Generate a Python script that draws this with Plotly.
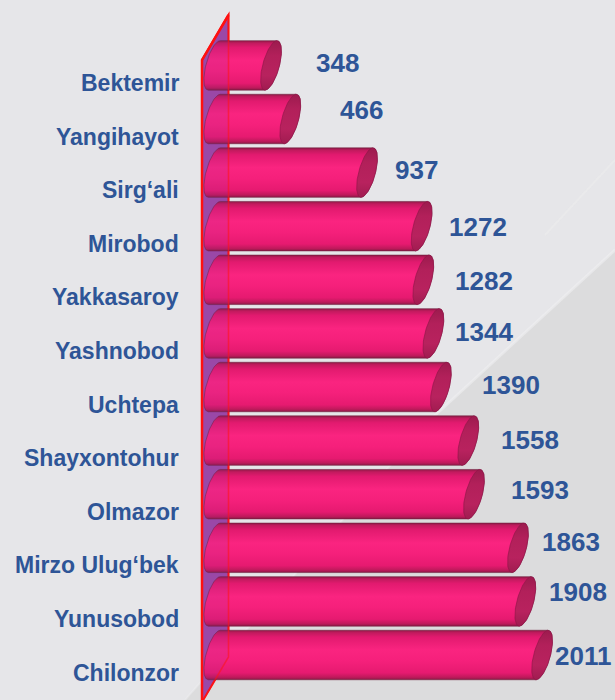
import numpy as np
import plotly.graph_objects as go

# District names (top to bottom) and their counts
districts = [
    "Bektemir", "Yangihayot", "Sirg‘ali", "Mirobod", "Yakkasaroy", "Yashnobod",
    "Uchtepa", "Shayxontohur", "Olmazor", "Mirzo Ulug‘bek", "Yunusobod", "Chilonzor",
]
counts = [348, 466, 937, 1272, 1282, 1344, 1390, 1558, 1593, 1863, 1908, 2011]

# Small per-label nudges for the value labels (pixels)
label_dx = [33, 37, 16, 15, 19, 9, 29, 20, 25, 12, 11, 1]
label_dy = [2, 9, 3, -1, -1, 1, 2, 1, 4, 6, 9, -1]

W, H = 615, 700
PX_PER_UNIT = 0.163      # horizontal scale
ZERO_PX = 214.3          # pixel position of value 0
ROW_PX = 53.6            # row pitch
FIRST_ROW_PX = 65.4      # centre of the first cylinder
BAR_H_PX = 49.5
CAP_A_PX = 8.5           # half-width of the end ellipse
CAP_SHEAR_PX = 6.0       # oblique shift of the ellipse top

x_range = [-ZERO_PX / PX_PER_UNIT, (W - ZERO_PX) / PX_PER_UNIT]
y_range = [(H - FIRST_ROW_PX) / ROW_PX, -FIRST_ROW_PX / ROW_PX]

a_u = CAP_A_PX / PX_PER_UNIT
s_u = CAP_SHEAR_PX / PX_PER_UNIT
hb = BAR_H_PX / 2 / ROW_PX
tip_px = np.hypot(CAP_A_PX, CAP_SHEAR_PX)

BLUE = "#2E5597"
FONT = "Liberation Sans, Arial, sans-serif"


def ellipse(cx, cy, t):
    x = cx + a_u * np.cos(t) + s_u * np.sin(t)
    y = cy - hb * np.sin(t)
    return x, y


body_scale = [
    [0.0, "#8f1a47"], [0.05, "#c21a5e"], [0.14, "#e21a6f"], [0.4, "#fa2480"],
    [0.62, "#f5207b"], [0.86, "#e61a70"], [0.95, "#bf195b"], [1.0, "#8a1a46"],
]
face_scale = [[0.0, "#9c1b4e"], [0.3, "#b2205a"], [0.7, "#b8225e"], [1.0, "#a01c50"]]

fig = go.Figure()

for i, v in enumerate(counts):
    cy = i
    # cylinder silhouette: right half of the far end, left half of the near end
    xr, yr = ellipse(v, cy, np.linspace(np.pi / 2, -np.pi / 2, 48))
    xl, yl = ellipse(0, cy, np.linspace(-np.pi / 2, -3 * np.pi / 2, 48))
    bx = np.concatenate([xr, xl, xr[:1]])
    by = np.concatenate([yr, yl, yr[:1]])
    fig.add_trace(go.Scatter(
        x=bx, y=by, mode="lines", fill="toself",
        line=dict(color="rgba(110,30,60,0.55)", width=1),
        fillgradient=dict(type="vertical", colorscale=body_scale,
                          start=cy - hb, stop=cy + hb),
        hoverinfo="skip", showlegend=False,
    ))
    # visible end face
    fx, fy = ellipse(v, cy, np.linspace(0, 2 * np.pi, 90))
    fig.add_trace(go.Scatter(
        x=fx, y=fy, mode="lines", fill="toself",
        line=dict(color="rgba(140,20,70,0.6)", width=1),
        fillgradient=dict(type="vertical", colorscale=face_scale,
                          start=cy - hb, stop=cy + hb),
        hoverinfo="skip", showlegend=False,
    ))

annotations = []
for i, (name, v) in enumerate(zip(districts, counts)):
    annotations.append(dict(
        x=181 / W, xref="paper", xanchor="right",
        y=i, yref="y", yanchor="middle", yshift=-17.6,
        text=f"<b>{name}</b>", showarrow=False,
        font=dict(family=FONT, size=23, color=BLUE),
    ))
    annotations.append(dict(
        x=v, xref="x", xanchor="left", xshift=tip_px + label_dx[i],
        y=i, yref="y", yanchor="middle", yshift=label_dy[i],
        text=f"<b>{v}</b>", showarrow=False,
        font=dict(family=FONT, size=26, color=BLUE),
    ))


def px_path(points):
    return "M " + " L ".join(f"{x / W:.5f},{1 - y / H:.5f}" for x, y in points) + " Z"


wall = [(202, 60), (228.5, 15), (228.5, 657), (202, 702)]
shapes = [
    # darker lower-right background panel
    dict(type="path", xref="paper", yref="paper", layer="below",
         path=px_path([(615, 250), (430, 420), (185, 700), (615, 700)]),
         fillcolor="#dcdcdd", line=dict(width=0)),
    dict(type="line", xref="paper", yref="paper", layer="below",
         x0=615 / W, y0=1 - 250 / H, x1=430 / W, y1=1 - 420 / H,
         line=dict(color="rgba(240,240,242,0.55)", width=3)),
    dict(type="line", xref="paper", yref="paper", layer="below",
         x0=430 / W, y0=1 - 420 / H, x1=185 / W, y1=1 - 700 / H,
         line=dict(color="rgba(240,240,242,0.4)", width=2)),
    dict(type="line", xref="paper", yref="paper", layer="below",
         x0=615 / W, y0=1 - 160 / H, x1=545 / W, y1=1 - 235 / H,
         line=dict(color="rgba(240,240,242,0.35)", width=2)),
    # back wall
    dict(type="path", xref="paper", yref="paper", layer="below",
         path=px_path(wall), fillcolor="#9b4aa7",
         line=dict(color="#ff1010", width=2)),
    # translucent front of the wall over the cylinders
    dict(type="path", xref="paper", yref="paper", layer="above",
         path=px_path(wall), fillcolor="rgba(150,60,170,0.12)",
         line=dict(color="rgba(255,20,20,0.55)", width=1.5)),
    dict(type="path", xref="paper", yref="paper", layer="above",
         path=px_path([(202, 702), (202, 60), (228.5, 15)])[:-2],
         line=dict(color="#ff1010", width=2.5)),
]

fig.update_layout(
    width=W, height=H,
    margin=dict(l=0, r=0, t=0, b=0),
    paper_bgcolor="#e6e6e9", plot_bgcolor="rgba(0,0,0,0)",
    xaxis=dict(range=x_range, visible=False, fixedrange=True),
    yaxis=dict(range=y_range, visible=False, fixedrange=True),
    annotations=annotations, shapes=shapes,
    showlegend=False,
)

fig.write_html("out.html")
